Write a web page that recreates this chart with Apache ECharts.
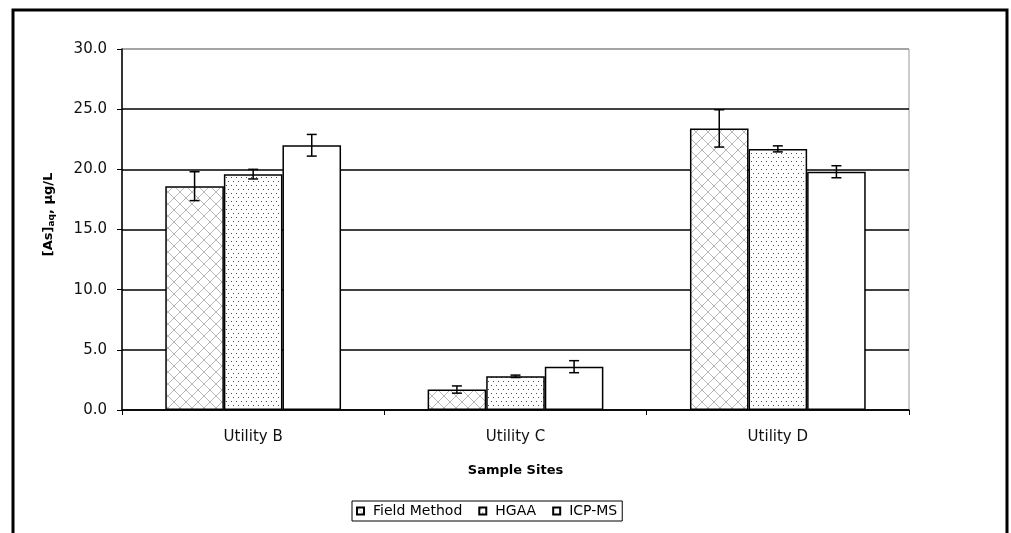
<!DOCTYPE html>
<html>
<head>
<meta charset="utf-8">
<script src="https://cdn.jsdelivr.net/npm/echarts@6/dist/echarts.min.js"></script>
<style>
html,body{margin:0;padding:0;background:#fff;}
#c{width:1011px;height:533px;}
</style>
</head>
<body>
<div id="c"></div>
<script>
const categories = ['Utility B', 'Utility C', 'Utility D'];
const seriesNames = ['Field Method', 'HGAA', 'ICP-MS'];
const fieldValues = [18.6, 1.7, 23.4];
const fieldErrors = [1.2, 0.3, 1.55];
const hgaaValues = [19.6, 2.8, 21.7];
const hgaaErrors = [0.4, 0.1, 0.25];
const icpValues = [22.0, 3.6, 19.8];
const icpErrors = [0.9, 0.5, 0.5];
const yTicks = [0, 5, 10, 15, 20, 25, 30];

const FONT = 'DejaVu Sans, Verdana, sans-serif';

function makeCross() {
  const c = document.createElement('canvas');
  c.width = 12; c.height = 12;
  const g = c.getContext('2d');
  g.fillStyle = '#fff'; g.fillRect(0, 0, 12, 12);
  g.strokeStyle = '#b8b8b8'; g.lineWidth = 1;
  g.beginPath();
  g.moveTo(0, 0); g.lineTo(12, 12);
  g.moveTo(12, 0); g.lineTo(0, 12);
  g.stroke();
  return c;
}
function makeDots() {
  const c = document.createElement('canvas');
  c.width = 10; c.height = 8;
  const g = c.getContext('2d');
  g.fillStyle = '#fff'; g.fillRect(0, 0, 10, 8);
  g.fillStyle = '#505050';
  g.fillRect(1, 1, 1, 1);
  g.fillRect(6, 1, 1, 1);
  g.fillRect(3, 5, 1, 1);
  g.fillRect(8, 5, 1, 1);
  return c;
}
const fills = [
  { image: makeCross(), repeat: 'repeat' },
  { image: makeDots(), repeat: 'repeat' },
  '#ffffff'
];
const values = [fieldValues, hgaaValues, icpValues];
const errors = [fieldErrors, hgaaErrors, icpErrors];
const CAT_GAP = 0.33;

const series = [];
seriesNames.forEach((n, i) => {
  series.push({
    name: n, type: 'bar', data: values[i],
    barGap: '0%', barCategoryGap: (CAT_GAP * 100) + '%',
    itemStyle: { color: fills[i], borderColor: '#000', borderWidth: 1.5 },
    emphasis: { disabled: true }, z: 2
  });
});
seriesNames.forEach((n, i) => {
  series.push({
    name: n + ' err', type: 'custom', z: 5,
    data: values[i].map((v, k) => [k, v, errors[i][k]]),
    renderItem: function (params, api) {
      const k = api.value(0), v = api.value(1), e = api.value(2);
      const band = api.size([1, 0])[0];
      const bw = band * (1 - CAT_GAP) / 3;
      const cx = api.coord([k, v])[0] + (i - 1) * bw;
      const yHi = api.coord([k, v + e])[1];
      const yLo = api.coord([k, v - e])[1];
      const cap = 5;
      const st = { stroke: '#000', lineWidth: 1.5 };
      return { type: 'group', children: [
        { type: 'line', shape: { x1: cx, y1: yHi, x2: cx, y2: yLo }, style: st },
        { type: 'line', shape: { x1: cx - cap, y1: yHi, x2: cx + cap, y2: yHi }, style: st },
        { type: 'line', shape: { x1: cx - cap, y1: yLo, x2: cx + cap, y2: yLo }, style: st }
      ]};
    }
  });
});

const chart = echarts.init(document.getElementById('c'));
chart.setOption({
  animation: false,
  backgroundColor: '#fff',
  textStyle: { fontFamily: FONT },
  graphic: [{
    type: 'rect', shape: { x: 13, y: 10, width: 994, height: 540 },
    style: { fill: 'none', stroke: '#000', lineWidth: 3 }, z: 100, silent: true
  }],
  grid: { left: 122, right: 102, top: 49, bottom: 123, show: true, borderColor: '#999', borderWidth: 1, backgroundColor: 'transparent' },
  legend: {
    data: seriesNames, bottom: 12, left: 352,
    icon: 'rect', itemWidth: 7, itemHeight: 7, itemGap: 16,
    borderColor: '#000', borderWidth: 1, padding: [3, 5, 3, 4], borderRadius: 0,
    textStyle: { fontSize: 14, color: '#000', fontFamily: FONT, padding: [0, 0, 0, 4] },
    selectedMode: false
  },
  xAxis: {
    type: 'category', data: categories,
    name: 'Sample Sites', nameLocation: 'middle', nameGap: 54,
    nameTextStyle: { fontWeight: 'bold', fontSize: 13, color: '#000', fontFamily: FONT },
    axisLine: { lineStyle: { color: '#000', width: 1.5 } },
    axisTick: { show: true, length: 5, lineStyle: { color: '#000' } },
    axisLabel: { color: '#111', fontSize: 15, margin: 20, fontFamily: FONT },
    splitLine: { show: false }
  },
  yAxis: {
    type: 'value', min: 0, max: 30, interval: 5,
    name: '{a|[As]}{s|aq}{a|, µg/L}', nameLocation: 'middle', nameGap: 66, nameRotate: 90,
    nameTextStyle: {
      padding: [0, 0, 0, 30],
      rich: {
        a: { fontWeight: 'bold', fontSize: 13, color: '#000', fontFamily: FONT },
        s: { fontWeight: 'bold', fontSize: 9, color: '#000', verticalAlign: 'bottom', padding: [6, 0, 0, 0], fontFamily: FONT }
      }
    },
    axisLine: { show: true, lineStyle: { color: '#000', width: 1.5 } },
    axisTick: { show: true, length: 5, lineStyle: { color: '#000' } },
    axisLabel: { color: '#111', fontSize: 15, margin: 15, fontFamily: FONT, formatter: v => v.toFixed(1) },
    splitLine: { show: true, lineStyle: { color: ['#000', '#000', '#000', '#000', '#000', '#000', '#999'], width: 1.5 } }
  },
  series: series
});
</script>
</body>
</html>
